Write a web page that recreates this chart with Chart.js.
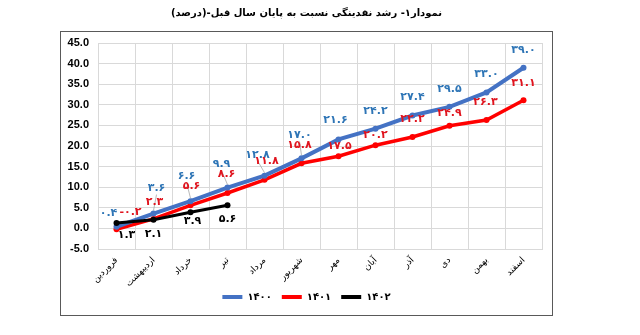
<!DOCTYPE html>
<html>
<head>
<meta charset="utf-8">
<script src="https://cdn.jsdelivr.net/npm/chart.js@4.4.0/dist/chart.umd.min.js"></script>
<style>
	html, body { margin: 0; padding: 0; background: #fff; }
</style>
</head>
<body>
<canvas id="nemoodar" width="640" height="335"></canvas>
<script>
// months of the year (Persian calendar)
const months = ["فروردین", "اردیبهشت", "خرداد", "تیر", "مرداد", "شهریور", "مهر", "آبان", "آذر", "دی", "بهمن", "اسفند"];
const years = ["۱۴۰۰", "۱۴۰۱", "۱۴۰۲"];
const v1400 = [0.4, 3.6, 6.6, 9.9, 12.8, 17.0, 21.6, 24.2, 27.4, 29.5, 33.0, 39.0];
const v1401 = [-0.2, 2.3, 5.6, 8.6, 11.8, 15.8, 17.5, 20.2, 22.2, 24.9, 26.3, 31.1];
const v1402 = [1.3, 2.1, 3.9, 5.6];
const yMin = -5, yMax = 45, yStep = 5;

const titleText = "\u200Fنمودار۱- رشد نقدینگی نسبت به پایان سال قبل-(درصد)\u200F";

const lineColors = ["#4472c4", "#ff0000", "#000000"];
const labelColors = ["#2e75b6", "#e0141e", "#000000"];

// where each value label sits relative to its point [dx, dy]
const labelShift = [
	[[-8, -14], [3, -25], [-4, -25], [-6, -23], [-7, -21], [-2, -23], [-3, -19], [0, -18], [0, -18], [0, -18], [0, -18], [0, -18]],
	[[14, -17], [1, -17], [1, -19], [-1, -19], [2, -19], [-2, -18], [1, -10], [0, -10], [0, -18], [0, -13], [-1, -18], [0, -17]],
	[[10, 12], [0, 14], [2, 9], [0, 14]],
];
const leaders = { 0: [1, 2, 3, 4, 5] };

const faDigits = "۰۱۲۳۴۵۶۷۸۹";
const toFa = (v) => v.toFixed(1).replace(/\d/g, (d) => faDigits[d]);

const valueLabels = {
	id: "valueLabels",
	afterLayout(chart) {
		// pull the legend up a bit, closer to the month labels
		chart.legend.top -= 7;
		chart.legend.bottom -= 7;
	},
	afterDatasetsDraw(chart) {
		const ctx = chart.ctx;
		ctx.save();
		ctx.direction = "ltr";
		ctx.font = "bold 11px 'DejaVu Sans'";
		ctx.textAlign = "center";
		ctx.textBaseline = "middle";
		chart.data.datasets.forEach((ds, i) => {
			const meta = chart.getDatasetMeta(i);
			meta.data.forEach((pt, j) => {
				const [dx, dy] = labelShift[i][j];
				const lx = pt.x + dx, ly = pt.y + dy;
				if (leaders[i] && leaders[i].includes(j)) {
					ctx.strokeStyle = "#a6a6a6";
					ctx.lineWidth = 0.8;
					ctx.beginPath();
					ctx.moveTo(lx, ly + 6);
					ctx.lineTo(pt.x, pt.y - 3);
					ctx.stroke();
				}
				ctx.fillStyle = labelColors[i];
				ctx.fillText(toFa(ds.data[j]), lx, ly);
			});
		});
		ctx.restore();
	},
	afterDraw(chart) {
		const ctx = chart.ctx;
		ctx.save();
		ctx.strokeStyle = "#595959";
		ctx.lineWidth = 1;
		ctx.strokeRect(60.5, 31.5, 492, 284);
		ctx.restore();
	},
};

const makeSet = (i, data, width, order) => ({
	label: years[i],
	data: data,
	borderColor: lineColors[i],
	backgroundColor: lineColors[i],
	borderWidth: width,
	pointRadius: 3,
	pointBackgroundColor: lineColors[i],
	pointBorderWidth: 0,
	tension: 0,
	order: order,
});

const chart = new Chart(document.getElementById("nemoodar"), {
	type: "line",
	data: {
		labels: months,
		datasets: [makeSet(0, v1400, 4, 1), makeSet(1, v1401, 3.5, 2), makeSet(2, v1402, 3, 0)],
	},
	options: {
		responsive: false,
		animation: false,
		layout: { padding: { left: 60, right: 87, top: 0, bottom: 16 } },
		plugins: {
			tooltip: { enabled: false },
			title: {
				display: true,
				text: titleText,
				color: "#000",
				font: { family: "DejaVu Sans", size: 10, weight: "bold" },
				padding: { top: 7, bottom: 24 },
			},
			legend: {
				position: "bottom",
				labels: {
					boxWidth: 20,
					boxHeight: 4,
					padding: 10,
					color: "#000",
					font: { family: "DejaVu Sans", size: 10, weight: "bold" },
					generateLabels: (c) =>
						c.data.datasets.map((ds, i) => ({
							text: ds.label,
							fillStyle: lineColors[i],
							strokeStyle: lineColors[i],
							lineWidth: 0,
							datasetIndex: i,
							fontColor: "#000",
						})),
				},
			},
		},
		scales: {
			x: {
				offset: true,
				grid: { color: "#d9d9d9", offset: true, drawTicks: false },
				border: { color: "#d9d9d9" },
				ticks: {
					minRotation: 45,
					maxRotation: 45,
					padding: 6,
					color: "#000",
					font: { family: "DejaVu Sans", size: 9 },
				},
				afterFit(s) { s.height = 40; },
			},
			y: {
				min: yMin,
				max: yMax,
				grid: { color: "#d9d9d9", drawTicks: false },
				border: { color: "#d9d9d9" },
				ticks: {
					stepSize: yStep,
					padding: 9,
					color: "#000",
					font: { family: "Liberation Sans", size: 11, weight: "bold" },
					callback: (v) => v.toFixed(1),
				},
				afterFit(s) { s.width = 38; },
			},
			yR: {
				type: "linear",
				position: "right",
				grid: { display: false },
				border: { display: false },
				ticks: { display: false },
				afterFit(s) { s.width = 11; },
			},
		},
	},
	plugins: [valueLabels],
});
</script>
</body>
</html>
